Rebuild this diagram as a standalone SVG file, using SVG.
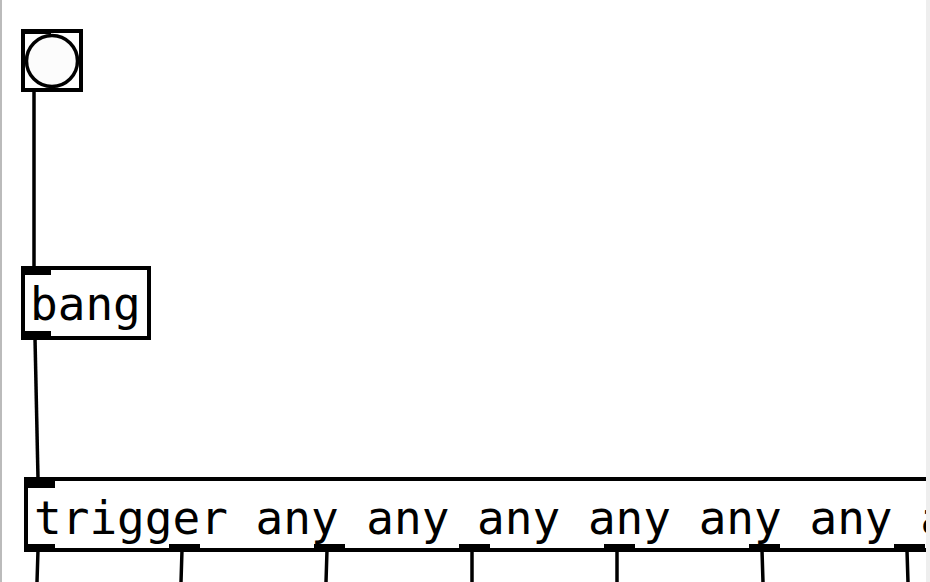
<svg xmlns="http://www.w3.org/2000/svg" width="930" height="582" viewBox="0 0 930 582">
<style>
.box{fill:#fff;stroke:#000;stroke-width:4}
.io{fill:#000}
.wire{stroke:#000;stroke-width:3.5;fill:none}
.t{font-family:"DejaVu Sans Mono",monospace;font-size:46px;fill:#000}
</style>
<rect x="0" y="0" width="930" height="582" fill="#fff"/>
<rect x="0" y="0" width="2" height="582" fill="#bbb"/>
<g id="wires">
<line class="wire" x1="34" y1="91" x2="34" y2="267"/>
<line class="wire" x1="35" y1="338" x2="38" y2="479"/>
<line class="wire" x1="38" y1="550" x2="37" y2="582"/>
<line class="wire" x1="182" y1="550" x2="181" y2="582"/>
<line class="wire" x1="327" y1="550" x2="326" y2="582"/>
<line class="wire" x1="472" y1="550" x2="472" y2="582"/>
<line class="wire" x1="617" y1="550" x2="617" y2="582"/>
<line class="wire" x1="762" y1="550" x2="763" y2="582"/>
<line class="wire" x1="907" y1="550" x2="908" y2="582"/>
</g>
<g id="bng">
<rect class="box" x="23" y="31" width="58" height="59" fill="#fcfcfc"/>
<rect class="io" x="21" y="29" width="30" height="5"/>
<circle cx="52" cy="61" r="25.5" fill="#fcfcfc" stroke="#000" stroke-width="3.5"/>
</g>
<g id="msg">
<rect class="box" x="23" y="268" width="126" height="70"/>
<rect class="io" x="21" y="266" width="30" height="9"/>
<rect class="io" x="21" y="331" width="30" height="9"/>
<text class="t" x="30" y="320">bang</text>
</g>
<g id="trigger">
<rect class="box" x="26" y="479" width="910" height="71"/>
<rect class="io" x="24" y="477" width="31" height="11"/>
<rect class="io" x="24" y="544" width="31" height="8"/>
<rect class="io" x="169" y="544" width="31" height="8"/>
<rect class="io" x="314" y="544" width="31" height="8"/>
<rect class="io" x="459" y="544" width="31" height="8"/>
<rect class="io" x="604" y="544" width="31" height="8"/>
<rect class="io" x="749" y="544" width="31" height="8"/>
<rect class="io" x="894" y="544" width="31" height="8"/>
<text class="t" x="34" y="534">trigger any any any any any any any</text>
</g>
<rect x="926" y="0" width="4" height="582" fill="#eee"/>
</svg>
